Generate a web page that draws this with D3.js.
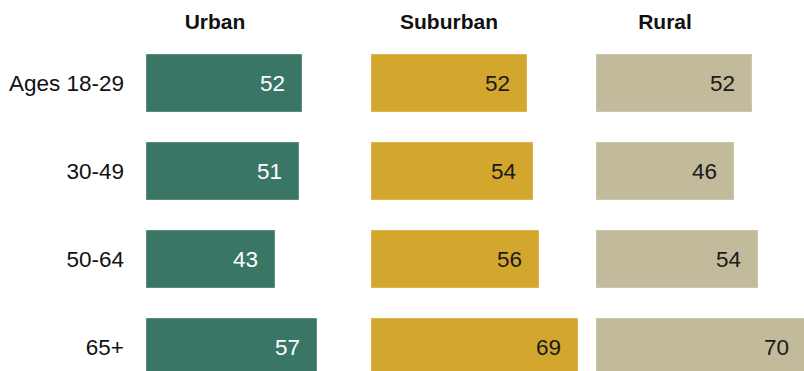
<!DOCTYPE html>
<html><head><meta charset="utf-8">
<script src="https://cdn.jsdelivr.net/npm/d3@7"></script>
<style>html,body{margin:0;padding:0;background:#fff;overflow:hidden}</style>
</head><body>
<svg id="chart" width="804" height="371"></svg>
<script>
const ageGroups = ["Ages 18-29", "30-49", "50-64", "65+"];
const panels = ["Urban", "Suburban", "Rural"];
const urban = [52, 51, 43, 57];
const suburban = [52, 54, 56, 69];
const rural = [52, 46, 54, 70];

const seriesValues = [urban, suburban, rural];
const colors = ["#3a7666", "#d3a62e", "#c1bb9c"];
const labelColors = ["#ffffff", "#1a1a1a", "#1a1a1a"];
const headerOffsets = [69, 78, 69];

const svg = d3.select("#chart");
const font = "'Liberation Sans', Arial, sans-serif";

const xPanel = d3.scalePoint().domain(panels).range([146, 596]);
const x = d3.scaleLinear().domain([0, 10]).range([0, 30]);
const y = d3.scaleBand().domain(ageGroups).range([54, 376]).paddingInner(30/88).paddingOuter(0);

svg.selectAll("text.row").data(ageGroups).join("text")
  .attr("class", "row")
  .attr("x", 124)
  .attr("y", d => y(d) + y.bandwidth()/2)
  .attr("dy", "0.35em")
  .attr("text-anchor", "end")
  .attr("font-family", font)
  .attr("font-size", 22.5)
  .attr("fill", "#111")
  .text(d => d);

panels.forEach((p, pi) => {
  const x0 = xPanel(p);
  const g = svg.append("g");
  g.append("text")
    .attr("x", x0 + headerOffsets[pi])
    .attr("y", 29)
    .attr("text-anchor", "middle")
    .attr("font-family", font)
    .attr("font-weight", "bold")
    .attr("font-size", 21)
    .attr("fill", "#111")
    .text(p);
  const vals = seriesValues[pi];
  g.selectAll("rect").data(vals).join("rect")
    .attr("x", x0)
    .attr("y", (d, i) => y(ageGroups[i]))
    .attr("width", d => x(d))
    .attr("height", y.bandwidth())
    .attr("fill", colors[pi])
    .attr("stroke", "#ffffff")
    .attr("stroke-opacity", 0.35)
    .attr("stroke-width", 1);
  g.selectAll("text.val").data(vals).join("text")
    .attr("class", "val")
    .attr("x", d => x0 + x(d) - 17)
    .attr("y", (d, i) => y(ageGroups[i]) + y.bandwidth()/2)
    .attr("dy", "0.35em")
    .attr("text-anchor", "end")
    .attr("font-family", font)
    .attr("font-size", 22.5)
    .attr("fill", labelColors[pi])
    .text(d => d);
});
</script>
</body></html>
